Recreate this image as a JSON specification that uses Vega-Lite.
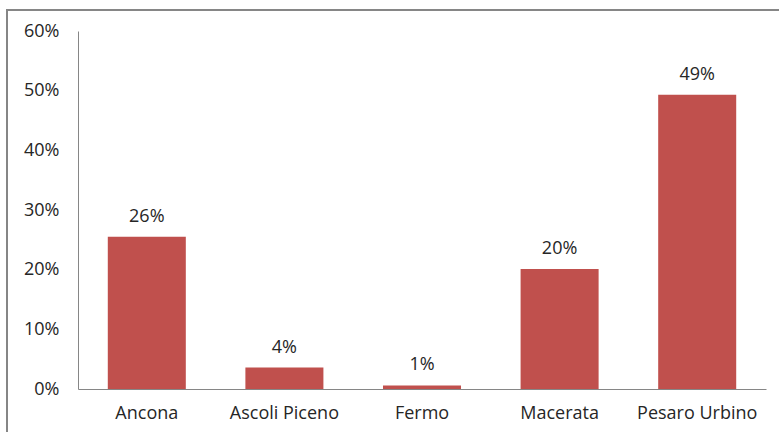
{
  "$schema": "https://vega.github.io/schema/vega-lite/v6.json",
  "autosize": {"type": "none"},
  "width": 774,
  "height": 424,
  "padding": {"left": 7, "top": 10, "right": -2, "bottom": -2},
  "background": "white",
  "config": {
    "view": {"stroke": "#868686", "strokeWidth": 2},
    "font": "Open Sans",
    "axis": {"labelFont": "Open Sans", "labelFontSize": 18, "labelColor": "#262626", "domainColor": "#868686", "domainWidth": 1, "ticks": false, "grid": false, "title": null}
  },
  "data": {
    "values": [
      {"provincia": "Ancona", "quota": 0.255},
      {"provincia": "Ascoli Piceno", "quota": 0.036},
      {"provincia": "Fermo", "quota": 0.006},
      {"provincia": "Macerata", "quota": 0.201},
      {"provincia": "Pesaro Urbino", "quota": 0.493}
    ]
  },
  "encoding": {
    "x": {
      "field": "provincia", "type": "nominal", "sort": null,
      "scale": {"range": [71, 759], "paddingInner": 0.433, "paddingOuter": 0.2165},
      "axis": {"labelAngle": 0, "labelPadding": 15, "offset": -45, "orient": "bottom"}
    },
    "y": {
      "field": "quota", "type": "quantitative",
      "scale": {"domain": [0, 0.6], "range": [379, 21], "nice": false},
      "axis": {"values": [0, 0.1, 0.2, 0.3, 0.4, 0.5, 0.6], "format": ".0%", "labelPadding": 19, "offset": -71, "orient": "left"}
    }
  },
  "layer": [
    {"mark": {"type": "bar", "color": "#C0504D"}},
    {
      "mark": {"type": "text", "baseline": "bottom", "dy": -11, "font": "Open Sans", "fontSize": 18, "color": "#262626"},
      "encoding": {"text": {"field": "quota", "type": "quantitative", "format": ".0%"}}
    }
  ]
}
